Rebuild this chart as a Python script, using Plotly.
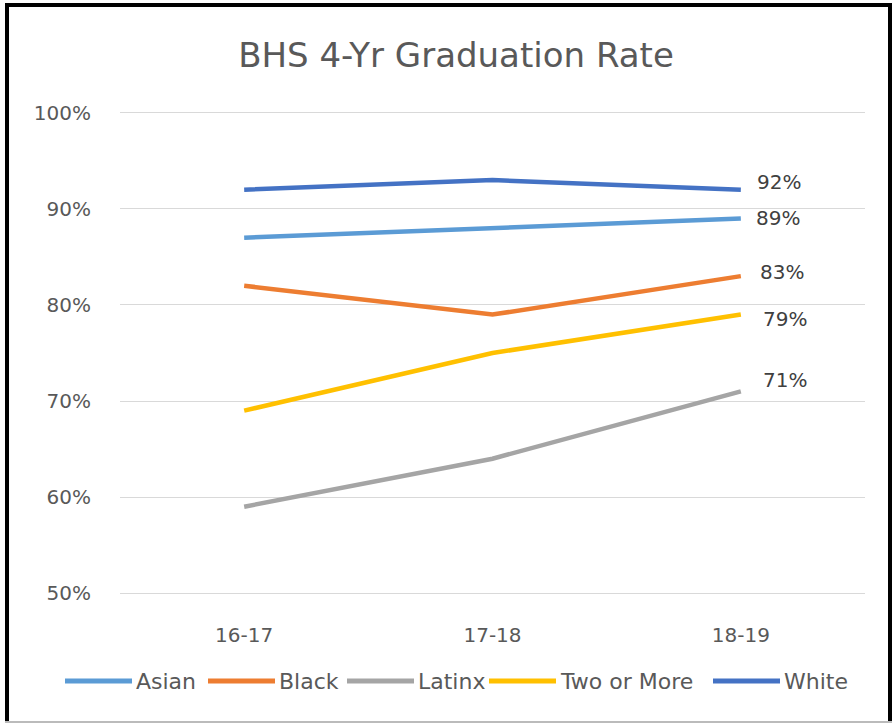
import plotly.graph_objects as go

years = ["16-17", "17-18", "18-19"]
series_names = ["Asian", "Black", "Latinx", "Two or More", "White"]
asian = [87, 88, 89]
black = [82, 79, 83]
latinx = [59, 64, 71]
two_or_more = [69, 75, 79]
white = [92, 93, 92]
y_ticks = [50, 60, 70, 80, 90, 100]

values = [asian, black, latinx, two_or_more, white]
colors = ["#5B9BD5", "#ED7D31", "#A5A5A5", "#FFC000", "#4472C4"]
label_yshift = [0, 4, 11, -4, 8]
label_xshift = [13, 17, 20, 20, 14]

FONT = "DejaVu Sans"
W, H = 894, 724
L, R, T, B = 120, 29, 108, 126
pw = W - L - R
ph = H - T - B


def px(x):
    return (x - L) / pw


def py(y):
    return (H - B - y) / ph


fig = go.Figure()
for name, vals, col in zip(series_names, values, colors):
    fig.add_trace(go.Scatter(x=years, y=vals, name=name, mode="lines",
                             line=dict(color=col, width=4.5), hoverinfo="x+y+name"))

for name, vals, xs, ys in zip(series_names, values, label_xshift, label_yshift):
    fig.add_annotation(x=years[-1], y=vals[-1], text=f"{vals[-1]}%", showarrow=False,
                       xanchor="left", yanchor="middle", xshift=xs, yshift=ys,
                       font=dict(size=20, color="#404040", family=FONT))

# manual legend (long line samples like the original)
legend_x = [65, 208, 347, 489, 713]
legend_y = 681
seg = 67
for name, col, lx in zip(series_names, colors, legend_x):
    fig.add_shape(type="line", xref="paper", yref="paper",
                  x0=px(lx), x1=px(lx + seg), y0=py(legend_y), y1=py(legend_y),
                  line=dict(color=col, width=5))
    fig.add_annotation(xref="paper", yref="paper", x=px(lx + seg + 2), y=py(legend_y),
                       text=name, showarrow=False, xanchor="left", yanchor="middle",
                       font=dict(size=22, color="#595959", family=FONT))

# outer frame
fig.add_shape(type="line", xref="paper", yref="paper", x0=px(7), x1=px(7), y0=py(3), y1=py(722),
              line=dict(color="black", width=4))
fig.add_shape(type="line", xref="paper", yref="paper", x0=px(5), x1=px(892), y0=py(5), y1=py(5),
              line=dict(color="black", width=4))
fig.add_shape(type="line", xref="paper", yref="paper", x0=px(890), x1=px(890), y0=py(3), y1=py(722),
              line=dict(color="black", width=4))
fig.add_shape(type="line", xref="paper", yref="paper", x0=px(5), x1=px(892), y0=py(722), y1=py(722),
              line=dict(color="#BBBBBB", width=2))

fig.update_layout(
    width=W, height=H,
    margin=dict(l=L, r=R, t=T, b=B, pad=0),
    paper_bgcolor="white", plot_bgcolor="white",
    title=dict(text="BHS 4-Yr Graduation Rate", x=456 / W, xanchor="center",
               y=1 - 55 / H, yanchor="middle",
               font=dict(size=34, color="#595959", family=FONT)),
    font=dict(family=FONT, color="#595959"),
    showlegend=False,
    xaxis=dict(type="category", showgrid=False, showline=False, zeroline=False,
               ticks="", ticklabelstandoff=23,
               tickfont=dict(size=20, color="#595959", family=FONT), range=[-0.5, 2.5]),
    yaxis=dict(range=[49.5, 100.5], tickvals=y_ticks, ticktext=[f"{v}%" for v in y_ticks],
               showgrid=True, gridcolor="#D9D9D9", gridwidth=1.3, zeroline=False,
               showline=False, ticks="", ticklabelstandoff=28,
               tickfont=dict(size=20, color="#595959", family=FONT)),
)

fig.write_html("out.html", config={"displayModeBar": False},
               post_script="document.body.style.margin='0';document.body.style.overflow='hidden';")
